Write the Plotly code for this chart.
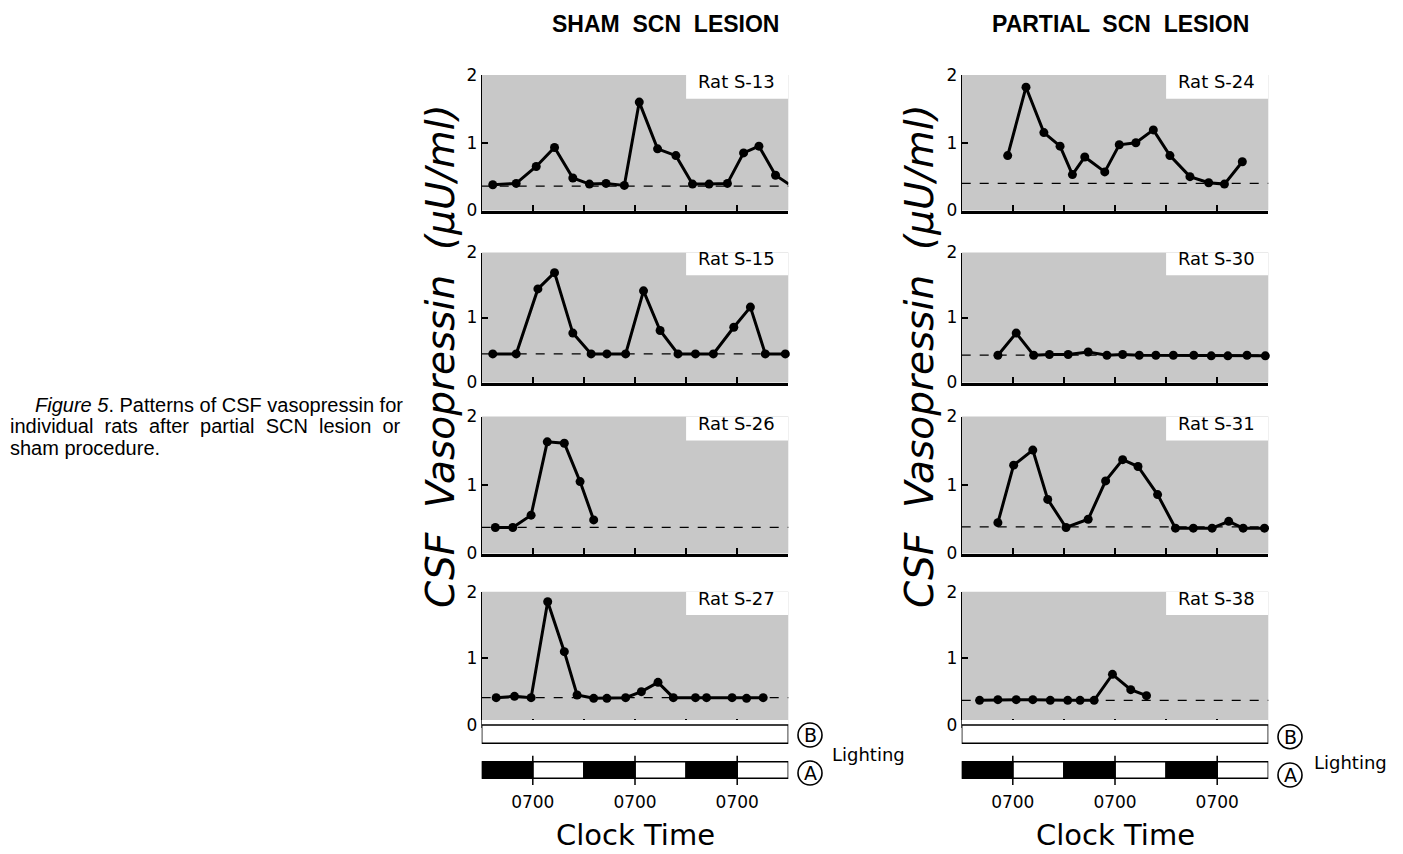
import plotly.graph_objects as go

# ---------------- data (hours relative to 07:00 of day 1) ----------------
rat_names = ["Rat S-13", "Rat S-15", "Rat S-26", "Rat S-27",
             "Rat S-24", "Rat S-30", "Rat S-31", "Rat S-38"]

s13_x = [-9.4, -3.9, 0.8, 5.1, 9.4, 13.3, 17.2, 21.5, 25.0, 29.3, 33.6, 37.5, 41.4, 45.7, 49.5, 53.1, 57.0, 60.1]
s13_y = [0.38, 0.40, 0.65, 0.93, 0.48, 0.39, 0.40, 0.37, 1.60, 0.91, 0.81, 0.39, 0.39, 0.40, 0.85, 0.95, 0.52, 0.39]

s15_x = [-9.4, -3.9, 1.2, 5.1, 9.4, 13.7, 17.4, 21.8, 26.0, 29.9, 34.1, 38.2, 42.4, 47.2, 51.1, 54.6, 59.3]
s15_y = [0.44, 0.44, 1.44, 1.69, 0.76, 0.44, 0.44, 0.44, 1.41, 0.80, 0.44, 0.44, 0.44, 0.85, 1.16, 0.44, 0.44]

s26_x = [-8.8, -4.7, -0.4, 3.4, 7.4, 11.1, 14.3]
s26_y = [0.38, 0.38, 0.56, 1.63, 1.61, 1.05, 0.49]

s27_x = [-8.6, -4.3, -0.4, 3.5, 7.4, 10.4, 14.3, 17.4, 21.8, 25.5, 29.4, 33.0, 38.2, 40.8, 46.8, 50.2, 54.1]
s27_y = [0.41, 0.43, 0.41, 1.85, 1.10, 0.45, 0.40, 0.40, 0.41, 0.50, 0.64, 0.41, 0.41, 0.41, 0.41, 0.40, 0.41]

s24_x = [-1.2, 3.1, 7.3, 11.1, 14.0, 16.9, 21.6, 25.0, 28.9, 33.0, 36.9, 41.6, 46.0, 49.7, 53.9]
s24_y = [0.81, 1.82, 1.15, 0.95, 0.53, 0.79, 0.57, 0.97, 1.00, 1.19, 0.81, 0.50, 0.41, 0.39, 0.72]

s30_x = [-3.5, 0.8, 4.9, 8.6, 13.0, 17.7, 22.1, 25.8, 29.7, 33.6, 37.7, 42.5, 46.6, 50.5, 55.0, 59.3]
s30_y = [0.42, 0.76, 0.42, 0.43, 0.43, 0.47, 0.42, 0.43, 0.42, 0.42, 0.42, 0.42, 0.41, 0.41, 0.42, 0.41]

s31_x = [-3.5, 0.2, 4.7, 8.2, 12.5, 17.7, 21.8, 25.8, 29.4, 34.0, 38.2, 42.4, 46.8, 50.7, 54.1, 59.1]
s31_y = [0.45, 1.29, 1.51, 0.79, 0.38, 0.50, 1.06, 1.37, 1.27, 0.86, 0.37, 0.37, 0.37, 0.47, 0.37, 0.37]

s38_x = [-7.8, -3.5, 0.8, 4.7, 8.8, 12.9, 15.8, 19.1, 23.4, 27.7, 31.4]
s38_y = [0.37, 0.38, 0.38, 0.38, 0.37, 0.37, 0.37, 0.37, 0.76, 0.53, 0.44]

baselines = [0.36, 0.44, 0.38, 0.41, 0.40, 0.42, 0.39, 0.37]

series_x = [s13_x, s15_x, s26_x, s27_x, s24_x, s30_x, s31_x, s38_x]
series_y = [s13_y, s15_y, s26_y, s27_y, s24_y, s30_y, s31_y, s38_y]

column_titles = ["SHAM  SCN  LESION", "PARTIAL  SCN  LESION"]
y_ticks = [0, 1, 2]
y_ticktext = ["0", "1", "2"]
x_ticks = [0, 12, 24, 36, 48, 60]

# lighting schedule A (12:12 light/dark) and B (constant)
light_a_start = [-12, 0, 12, 24, 36, 48]
light_a_dur = [12, 12, 12, 12, 12, 12]
light_a_state = ["dark", "light", "dark", "light", "dark", "light"]
light_b_start = [-12]
light_b_dur = [72]
clock_ticks = [0, 24, 48]
clock_labels = ["0700", "0700", "0700"]

# ---------------- layout geometry ----------------
W, H = 1403, 854
OFF = 8  # page body margin
def xd(p):
    return (p - OFF) / W
def yd(p):
    return 1 - (p - OFF) / H
def sfx(n):
    return "" if n == 1 else str(n)

col_px = [(481.7, 788.3), (961.7, 1268.3)]
row_px = [(75, 210.5), (252.5, 382.5), (416.5, 553.5), (591.7, 725)]

FONT = "DejaVu Sans"
fig = go.Figure()
layout = dict(template="none", width=W, height=H, margin=dict(l=0, r=0, t=0, b=0, pad=0),
              paper_bgcolor="white", plot_bgcolor="white",
              showlegend=False, barmode="overlay",
              font=dict(family=FONT, color="black"))
shapes = []
annotations = []

def ann(x, y, text, size, family=FONT, **kw):
    d = dict(xref="paper", yref="paper", x=xd(x), y=yd(y), text=text, showarrow=False,
             xanchor="center", yanchor="middle", font=dict(size=size, family=family, color="black"))
    d.update(kw)
    annotations.append(d)

for i in range(8):
    n = i + 1
    s = sfx(n)
    col = i // 4
    row = i % 4
    x0, x1 = col_px[col]
    top, bot = row_px[row]
    layout[f"xaxis{s}"] = dict(domain=[xd(x0), xd(x1)], range=[-12, 60], anchor=f"y{s}",
                               showline=True, linewidth=3, linecolor="black",
                               ticks="inside", ticklen=6, tickwidth=2, tickcolor="black",
                               tickvals=x_ticks, showticklabels=False, automargin=False,
                               showgrid=False, zeroline=False)
    layout[f"yaxis{s}"] = dict(domain=[yd(bot), yd(top)], range=[0, 2], anchor=f"x{s}",
                               showline=True, linewidth=1, linecolor="black",
                               ticks="inside", ticklen=6, tickwidth=1.5, tickcolor="black",
                               tickvals=y_ticks, ticktext=y_ticktext, automargin=False,
                               tickfont=dict(size=17, family=FONT, color="black"),
                               showgrid=False, zeroline=False)
    shapes.append(dict(type="rect", xref=f"x{s} domain", yref=f"y{s} domain",
                       x0=0, x1=1, y0=0, y1=1, fillcolor="#c8c8c8",
                       line=dict(width=0), layer="below"))
    shapes.append(dict(type="rect", xref=f"x{s}", yref=f"y{s}",
                       x0=36, x1=60, y0=1.65, y1=2.0, fillcolor="white",
                       line=dict(width=0), layer="below"))
    shapes.append(dict(type="line", xref=f"x{s} domain", yref=f"y{s}",
                       x0=0, x1=1, y0=baselines[i], y1=baselines[i],
                       line=dict(color="black", width=1.2, dash="dash"), layer="below"))
    fig.add_trace(go.Scatter(x=series_x[i], y=series_y[i], mode="lines+markers",
                             line=dict(color="black", width=3),
                             marker=dict(size=9, color="black"),
                             xaxis=f"x{s}", yaxis=f"y{s}", cliponaxis=False,
                             hoverinfo="skip"))
    annotations.append(dict(xref=f"x{s}", yref=f"y{s}", x=47.8, y=1.9,
                            xanchor="center", yanchor="middle",
                            text=rat_names[i], showarrow=False,
                            font=dict(size=18, family=FONT, color="black")))

# ---------------- lighting strips ----------------
for c in range(2):
    n = 9 + c
    s = sfx(n)
    x0, x1 = col_px[c]
    layout[f"xaxis{s}"] = dict(domain=[xd(x0), xd(x1)], range=[-12, 60], anchor=f"y{s}",
                               showline=False, showgrid=False, zeroline=False, automargin=False,
                               ticks="", tickvals=clock_ticks, ticktext=clock_labels,
                               tickfont=dict(size=17, family=FONT, color="black"))
    layout[f"yaxis{s}"] = dict(domain=[yd(790), yd(720)], range=[0, 7], anchor=f"x{s}",
                               visible=False, showgrid=False, zeroline=False, automargin=False)
    fig.add_trace(go.Bar(orientation="h", y=[5.58] * len(light_b_start), x=light_b_dur,
                         base=light_b_start, width=1.83,
                         marker=dict(color="white", line=dict(color="black", width=1.5)),
                         xaxis=f"x{s}", yaxis=f"y{s}", hoverinfo="skip"))
    fig.add_trace(go.Bar(orientation="h", y=[2.0] * len(light_a_start), x=light_a_dur,
                         base=light_a_start, width=1.66,
                         marker=dict(color=["black" if st == "dark" else "white" for st in light_a_state],
                                     line=dict(color="black", width=1.5)),
                         xaxis=f"x{s}", yaxis=f"y{s}", hoverinfo="skip"))
    tx, ty = [], []
    for t in clock_ticks:
        tx += [t, t, None]
        ty += [3.43, 0.5, None]
    fig.add_trace(go.Scatter(x=tx, y=ty, mode="lines", line=dict(color="black", width=1.5),
                             xaxis=f"x{s}", yaxis=f"y{s}", hoverinfo="skip", cliponaxis=False))
    ann((x0 + x1) / 2, 835, "Clock Time", 29)

# circled letters and "Lighting"
circ = [(810, 735, "B"), (810, 773, "A"), (1290, 736.7, "B"), (1290, 775, "A")]
for (cx, cy, letter) in circ:
    shapes.append(dict(type="circle", xref="paper", yref="paper",
                       xsizemode="pixel", ysizemode="pixel",
                       xanchor=xd(cx), yanchor=yd(cy), x0=-12, x1=12, y0=-12, y1=12,
                       line=dict(color="black", width=1.6), fillcolor="white"))
    ann(cx, cy, letter, 19)
ann(868, 754, "Lighting", 18)
ann(1350, 762, "Lighting", 18)

# column titles
for (tx_, title) in zip([665, 1120], column_titles):
    ann(tx_, 24, f"<b>{title}</b>", 23, family="Liberation Sans")

# y-axis titles
for ax_x in [440, 919]:
    ann(ax_x, 356, "<i>CSF  Vasopressin  (µU/ml)</i>", 39, textangle=-90)

# caption
ann(405, 405, "<i>Figure 5</i>. Patterns of CSF vasopressin for", 20,
    family="Liberation Sans", xanchor="right")
ann(8, 426.5, "individual  rats  after  partial  SCN  lesion  or", 20,
    family="Liberation Sans", xanchor="left")
ann(8, 448, "sham procedure.", 20, family="Liberation Sans", xanchor="left")

layout["shapes"] = shapes
layout["annotations"] = annotations
fig.update_layout(**layout)
fig.write_html("out.html")
